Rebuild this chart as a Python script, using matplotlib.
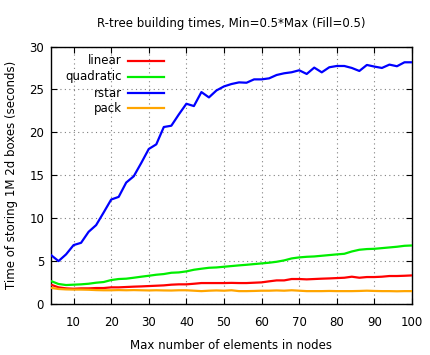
import matplotlib
matplotlib.use("Agg")
import matplotlib.pyplot as plt
from matplotlib.lines import Line2D
from matplotlib.patches import Rectangle

x_nodes = list(range(4, 101, 2))

linear = [2.25, 1.94, 1.82, 1.78, 1.82, 1.82, 1.86, 1.86, 1.94, 1.94,
          1.98, 2.02, 2.05, 2.09, 2.13, 2.17, 2.25, 2.29, 2.29, 2.36,
          2.44, 2.44, 2.44, 2.44, 2.46, 2.44, 2.44, 2.48, 2.52, 2.64,
          2.75, 2.75, 2.91, 2.91, 2.87, 2.91, 2.95, 2.98, 3.02, 3.06,
          3.18, 3.06, 3.14, 3.14, 3.18, 3.26, 3.26, 3.29, 3.33]

quadratic = [2.67, 2.33, 2.21, 2.25, 2.29, 2.36, 2.48, 2.56, 2.79, 2.91,
             2.95, 3.06, 3.18, 3.29, 3.41, 3.49, 3.64, 3.68, 3.80, 3.99,
             4.11, 4.22, 4.26, 4.34, 4.42, 4.50, 4.57, 4.65, 4.73, 4.81,
             4.92, 5.08, 5.31, 5.43, 5.50, 5.54, 5.62, 5.70, 5.78, 5.85,
             6.12, 6.32, 6.40, 6.43, 6.51, 6.59, 6.67, 6.78, 6.82]

rstar = [5.70, 5.00, 5.78, 6.86, 7.13, 8.41, 9.19, 10.66, 12.17, 12.48,
         14.15, 14.88, 16.43, 18.06, 18.60, 20.62, 20.77, 22.09, 23.33, 23.06,
         24.69, 24.07, 24.88, 25.35, 25.63, 25.82, 25.78, 26.17, 26.17, 26.29,
         26.68, 26.88, 27.00, 27.23, 26.80, 27.54, 26.99, 27.58, 27.73, 27.73,
         27.50, 27.15, 27.85, 27.66, 27.50, 27.89, 27.70, 28.16, 28.16]

pack = [1.88, 1.75, 1.70, 1.68, 1.68, 1.66, 1.62, 1.60, 1.60, 1.62,
        1.60, 1.62, 1.60, 1.58, 1.60, 1.58, 1.57, 1.60, 1.60, 1.55,
        1.50, 1.55, 1.58, 1.55, 1.60, 1.50, 1.50, 1.52, 1.55, 1.55,
        1.58, 1.55, 1.60, 1.55, 1.50, 1.50, 1.50, 1.52, 1.50, 1.50,
        1.50, 1.52, 1.55, 1.52, 1.50, 1.50, 1.48, 1.50, 1.50]

series_names = ["linear", "quadratic", "rstar", "pack"]
series_colors = ["#ff0000", "#00ee00", "#0000ff", "#ffa500"]
series_data = [linear, quadratic, rstar, pack]

title = "R-tree building times, Min=0.5*Max (Fill=0.5)"
xlabel = "Max number of elements in nodes"
ylabel = "Time of storing 1M 2d boxes (seconds)"

plt.rcParams['font.family'] = ['DejaVu Sans']
fig = plt.figure(figsize=(4.30, 3.55), dpi=100)
ax = fig.add_axes([51/430, 1 - 304/355, 361/430, 257.5/355])

for name, col, data in zip(series_names, series_colors, series_data):
    ax.plot(x_nodes, data, color=col, lw=1.6, zorder=3, solid_joinstyle='round')

ax.set_xlim(4, 100)
ax.set_ylim(0, 30)
ax.set_xticks(range(10, 101, 10))
ax.set_yticks(range(0, 31, 5))
ax.tick_params(direction='in', length=4.5, width=0.8, top=True, right=True,
               labelsize=8.5, colors='black')
ax.tick_params(axis='x', pad=9)
ax.tick_params(axis='y', pad=5)
ax.grid(True, color='#808080', linestyle=(0, (1, 3)), lw=0.8, zorder=0)
for sp in ax.spines.values():
    sp.set_linewidth(1.0)

# opaque key box
ax.add_patch(Rectangle((0, 0.718), 0.321, 0.282, transform=ax.transAxes,
                       facecolor='white', edgecolor='none', zorder=1))
rows = [0.944, 0.882, 0.819, 0.761]
for name, col, yy in zip(series_names, series_colors, rows):
    ax.add_line(Line2D([0.213, 0.313], [yy, yy], transform=ax.transAxes,
                       color=col, lw=1.6, zorder=4))
    ax.text(0.197, yy, name, transform=ax.transAxes, ha='right', va='center',
            fontsize=8.5, zorder=4)

ax.set_title(title, fontsize=8.5, pad=14)
ax.set_xlabel(xlabel, fontsize=8.5, labelpad=7)
ax.set_ylabel(ylabel, fontsize=8.5, labelpad=8)

fig.savefig("out.png", dpi=100)
